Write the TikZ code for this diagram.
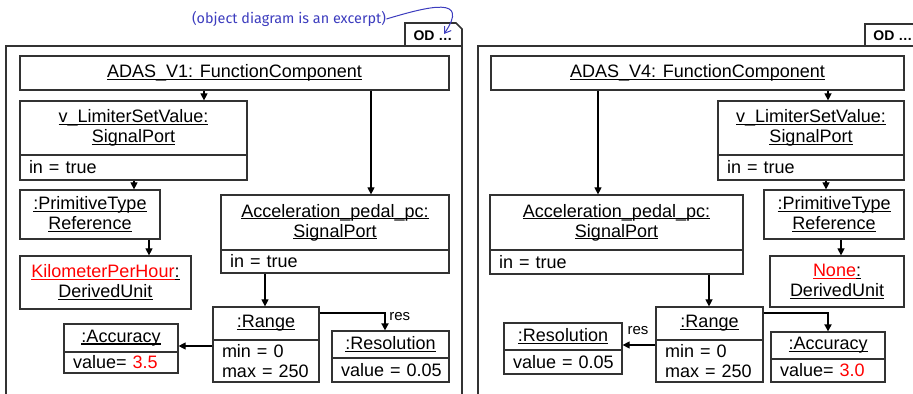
\documentclass[tikz,border=0pt]{standalone}
\usepackage{fontspec}
\setmainfont{Liberation Sans}
\newfontfamily\notefont{Fira Sans}
\usetikzlibrary{arrows.meta}
\definecolor{linegray}{RGB}{50,50,50}
\definecolor{noteblue}{RGB}{60,60,190}
\newcommand\myul[1]{\leavevmode\setbox0=\hbox{#1}\rlap{\vrule height -0.55pt depth 1.15pt width \wd0}\box0}
\tikzset{
  box/.style={draw=linegray, line width=0.6pt, inner sep=0pt, align=center,
    font=\fontsize{9}{10}\selectfont},
  attr/.style={draw=linegray, line width=0.6pt, inner xsep=4.5pt, inner ysep=0pt,
    align=left, font=\fontsize{9}{10}\selectfont},
  arr/.style={draw=black, line width=0.6pt, -{Triangle[length=3.5pt,width=3.5pt]}},
  thickarr/.style={draw=black, line width=1.1pt, -{Triangle[length=3.5pt,width=3.5pt]}},
  frame/.style={draw=linegray, line width=0.8pt},
  tab/.style={draw=linegray, line width=0.8pt},
  lbl/.style={font=\fontsize{7.5}{8}\selectfont, inner sep=0pt},
}
\begin{document}
\begin{tikzpicture}[x=0.5pt,y=-0.5pt]
\useasboundingbox (0,0) rectangle (913,394);
% frames
\draw[frame] (6,394) -- (6,46) -- (462,46) -- (462,394);
\draw[frame] (478,394) -- (478,46) -- (913,46);
\draw[tab] (405,46) -- (405,23) -- (456,23) -- (462,29) -- (462,46);
\draw[tab] (865,46) -- (865,24) -- (913,24);
\node[font=\fontsize{7}{8}\selectfont\bfseries, inner sep=0pt] (od1) at (433,36) {OD \dots};
\node[font=\fontsize{7}{8}\selectfont\bfseries, inner sep=0pt, anchor=west] (od2) at (873,36) {OD \dots};
% annotation
\node[font=\notefont\fontsize{7.2}{8}\selectfont, text=noteblue, inner sep=0pt] (note) at (289,19) {(object diagram is an excerpt)};
\coordinate (noteend) at (444,34);
\draw[noteblue, line width=0.5pt, -{Straight Barb[length=3pt,width=4pt]}] (note.east) .. controls (430,6) and (470,-4) .. (noteend);

% ===== left panel =====
\node[box, minimum width=214.5pt, minimum height=17pt] (adas1) at (234.5,73) {\myul{ADAS\_V1: FunctionComponent}};
\node[box, minimum width=113.5pt, minimum height=27pt] (vl1) at (133.5,128) {\myul{v\_LimiterSetValue:}\\\myul{SignalPort}};
\node[attr, minimum width=113.5pt, text width=104.5pt, minimum height=12.5pt] (vl1a) at (133.5,167.5) {\mbox{in = true}};
\node[box, minimum width=70pt, minimum height=24.5pt] (prim1) at (90,214.5) {\myul{:PrimitiveType}\\\myul{Reference}};
\node[box, minimum width=85.5pt, minimum height=26.5pt] (kph1) at (105.5,282.5) {\textcolor{red}{\myul{KilometerPerHour}}\myul{:}\\\myul{DerivedUnit}};
\node[box, minimum width=114pt, minimum height=27.5pt] (acc1) at (335,222.5) {\myul{Acceleration\_pedal\_pc:}\\\myul{SignalPort}};
\node[attr, minimum width=114pt, text width=105pt, minimum height=11.5pt] (acc1a) at (335,261.5) {\mbox{in = true}};
\node[box, minimum width=53pt, minimum height=16.5pt] (rng1) at (266,323.5) {\myul{:Range}};
\node[attr, minimum width=53pt, text width=44pt, minimum height=21pt] (rng1a) at (266,361) {\mbox{min = 0}\\\mbox{max = 250}};
\node[box, minimum width=57pt, minimum height=14pt] (accu1) at (121,338) {\myul{:Accuracy}};
\node[attr, minimum width=57pt, text width=48pt, minimum height=10.5pt] (accu1a) at (121,362.5) {\mbox{value= \textcolor{red}{3.5}}};
\node[box, minimum width=58.5pt, minimum height=13.5pt] (res1) at (390.5,344.5) {\myul{:Resolution}};
\node[attr, minimum width=58.5pt, text width=49.5pt, minimum height=12pt] (res1a) at (390.5,370) {\mbox{value = 0.05}};

\coordinate (c1) at (204,0);
\coordinate (c2) at (371,0);
\coordinate (c3) at (134,0);
\coordinate (c4) at (149,0);
\coordinate (c5) at (265,0);
\coordinate (c6) at (385,0);
\coordinate (r1) at (0,346);
\coordinate (r2) at (0,313);
\draw[arr] (adas1.south -| c1) -- (vl1.north -| c1);
\draw[arr] (adas1.south -| c2) -- (acc1.north -| c2);
\draw[arr] (vl1a.south -| c3) -- (prim1.north -| c3);
\draw[arr] (prim1.south -| c4) -- (kph1.north -| c4);
\draw[arr] (acc1a.south -| c5) -- (rng1.north -| c5);
\draw[arr] (rng1a.west |- r1) -- (accu1.east |- r1);
\draw[thickarr] (rng1.east |- r2) -- (c6 |- r2) -- (res1.north -| c6);
\node[lbl, anchor=west] (reslbl1) at (389,317) {res};

% ===== right panel =====
\node[box, minimum width=206.5pt, minimum height=17pt] (adas4) at (697.5,73) {\myul{ADAS\_V4: FunctionComponent}};
\node[box, minimum width=93pt, minimum height=27pt] (vl4) at (811,128) {\myul{v\_LimiterSetValue:}\\\myul{SignalPort}};
\node[attr, minimum width=93pt, text width=84pt, minimum height=12.5pt] (vl4a) at (811,167.5) {\mbox{in = true}};
\node[box, minimum width=70pt, minimum height=24.5pt] (prim4) at (834,214.5) {\myul{:PrimitiveType}\\\myul{Reference}};
\node[box, minimum width=67pt, minimum height=25.5pt] (none4) at (837,281.5) {\textcolor{red}{\myul{None}}\myul{:}\\\myul{DerivedUnit}};
\node[box, minimum width=126.5pt, minimum height=27.5pt] (acc4) at (616.5,222.5) {\myul{Acceleration\_pedal\_pc:}\\\myul{SignalPort}};
\node[attr, minimum width=126.5pt, text width=117.5pt, minimum height=12pt] (acc4a) at (616.5,262) {\mbox{in = true}};
\node[box, minimum width=53.5pt, minimum height=16.5pt] (rng4) at (709.5,323.5) {\myul{:Range}};
\node[attr, minimum width=53.5pt, text width=44.5pt, minimum height=21pt] (rng4a) at (709.5,361) {\mbox{min = 0}\\\mbox{max = 250}};
\node[box, minimum width=59pt, minimum height=13.5pt] (res4) at (563,336.5) {\myul{:Resolution}};
\node[attr, minimum width=59pt, text width=50pt, minimum height=12pt] (res4a) at (563,362) {\mbox{value = 0.05}};
\node[box, minimum width=57pt, minimum height=13.5pt] (accu4) at (828,345.5) {\myul{:Accuracy}};
\node[attr, minimum width=57pt, text width=48pt, minimum height=11.5pt] (accu4a) at (828,370.5) {\mbox{value= \textcolor{red}{3.0}}};

\coordinate (d1) at (598,0);
\coordinate (d2) at (828,0);
\coordinate (d3) at (826,0);
\coordinate (d4) at (841,0);
\coordinate (d5) at (709,0);
\coordinate (d6) at (828,0);
\coordinate (s1) at (0,345);
\coordinate (s2) at (0,313);
\draw[arr] (adas4.south -| d1) -- (acc4.north -| d1);
\draw[arr] (adas4.south -| d2) -- (vl4.north -| d2);
\draw[arr] (vl4a.south -| d3) -- (prim4.north -| d3);
\draw[arr] (prim4.south -| d4) -- (none4.north -| d4);
\draw[arr] (acc4a.south -| d5) -- (rng4.north -| d5);
\draw[arr] (rng4a.west |- s1) -- (res4.east |- s1);
\draw[thickarr] (rng4.east |- s2) -- (d6 |- s2) -- (accu4.north -| d6);
\node[lbl] (reslbl4) at (638,331) {res};
\end{tikzpicture}
\end{document}
